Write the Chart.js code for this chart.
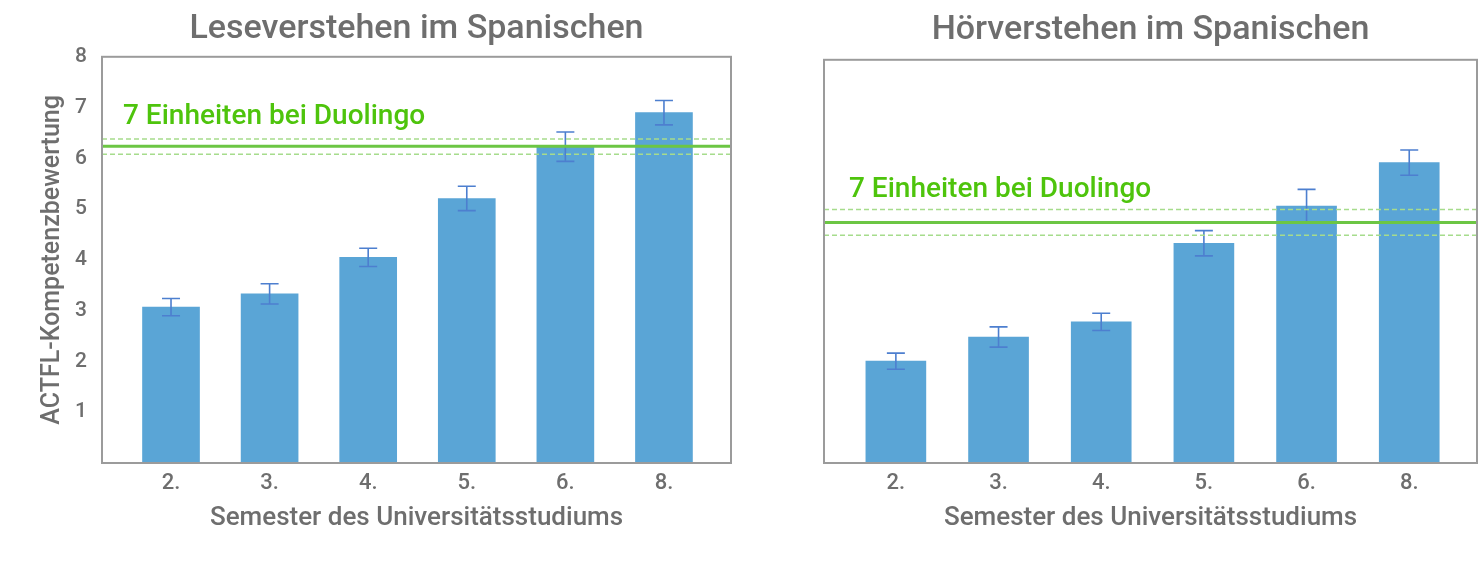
<!DOCTYPE html>
<html>
<head>
<meta charset="utf-8">
<script src="https://cdn.jsdelivr.net/npm/chart.js@4/dist/chart.umd.min.js"></script>
<style>
    html, body { margin: 0; padding: 0; background: #fff; }
    .box { position: absolute; top: 0; height: 562px; }
    #leftBox { left: 0; width: 760px; }
    #rightBox { left: 760px; width: 721px; }
</style>
</head>
<body>
<div class="box" id="leftBox"><canvas id="leseChart"></canvas></div>
<div class="box" id="rightBox"><canvas id="hoerChart"></canvas></div>
<script>
const semesters = ["2.", "3.", "4.", "5.", "6.", "8."];
const yTicks = [1, 2, 3, 4, 5, 6, 7, 8];

const leseWerte = [3.07, 3.33, 4.05, 5.21, 6.23, 6.90];
const leseFehler = [0.17, 0.20, 0.18, 0.24, 0.29, 0.24];
// Duolingo: Mittelwert, untere Grenze, obere Grenze
const leseDuolingo = [6.24, 6.08, 6.38];

const hoerWerte = [2.02, 2.50, 2.80, 4.36, 5.10, 5.96];
const hoerFehler = [0.16, 0.20, 0.17, 0.25, 0.33, 0.25];
const hoerDuolingo = [4.77, 4.52, 5.03];

const duolingoText = "7 Einheiten bei Duolingo";

const GRAY = "#6e6e6e";
const FONT = "Roboto";

// Fehlerbalken + Rahmen + Beschriftung der Duolingo-Linie
const extras = {
    id: "extras",
    afterDatasetDraw(chart, args, opts) {
        if (args.index !== 0) return;
        const ctx = chart.ctx;
        const x = chart.scales.x, y = chart.scales.y;
        ctx.save();
        ctx.strokeStyle = "#4d7fcf";
        ctx.lineWidth = 1.6;
        opts.values.forEach((v, i) => {
            const px = x.getPixelForValue(i);
            const top = y.getPixelForValue(v + opts.errors[i]);
            const bot = y.getPixelForValue(v - opts.errors[i]);
            ctx.beginPath();
            ctx.moveTo(px, top); ctx.lineTo(px, bot);
            ctx.moveTo(px - 9, top); ctx.lineTo(px + 9, top);
            ctx.moveTo(px - 9, bot); ctx.lineTo(px + 9, bot);
            ctx.stroke();
        });
        ctx.restore();
    },
    afterDatasetsDraw(chart, args, opts) {
        const ctx = chart.ctx;
        const a = chart.chartArea;
        ctx.save();
        ctx.strokeStyle = "#9b9b9b";
        ctx.lineWidth = 2;
        ctx.strokeRect(a.left, a.top, a.right - a.left, a.bottom - a.top);
        ctx.fillStyle = "#4ec40c";
        ctx.font = "500 28px " + FONT;
        ctx.textBaseline = "middle";
        ctx.fillText(duolingoText, a.left + opts.labelDx,
            chart.scales.y.getPixelForValue(opts.line[0]) - opts.labelDy);
        ctx.restore();
    }
};

function makeChart(id, cfg) {
    const line = (v, color, width, dash) => ({
        type: "line",
        data: [{ x: cfg.xMin, y: v }, { x: cfg.xMax, y: v }],
        borderColor: color,
        borderWidth: width,
        borderDash: dash,
        pointRadius: 0,
        order: 0,
    });

    return new Chart(document.getElementById(id), {
        type: "bar",
        data: {
            datasets: [
                {
                    data: cfg.values.map((v, i) => ({ x: i, y: v })),
                    backgroundColor: "#5aa5d6",
                    barThickness: cfg.barWidth,
                    order: 1,
                },
                line(cfg.line[0], "#6cc644", 3, []),
                line(cfg.line[1], "#a6dc8c", 1.5, [5, 3]),
                line(cfg.line[2], "#a6dc8c", 1.5, [5, 3]),
            ],
        },
        options: {
            responsive: true,
            maintainAspectRatio: false,
            animation: false,
            layout: { padding: { left: 0, right: cfg.padRight, top: 0, bottom: 0 } },
            plugins: {
                legend: { display: false },
                tooltip: { enabled: false },
                title: {
                    display: true,
                    fullSize: false,
                    text: cfg.title,
                    color: GRAY,
                    font: { family: FONT, size: 34, weight: "500" },
                    padding: cfg.titlePad,
                },
                extras: {
                    values: cfg.values,
                    errors: cfg.errors,
                    line: cfg.line,
                    labelDx: cfg.labelDx,
                    labelDy: cfg.labelDy,
                },
            },
            scales: {
                x: {
                    type: "linear",
                    offset: false,
                    min: cfg.xMin,
                    max: cfg.xMax,
                    grid: { display: false, drawTicks: false },
                    border: { display: false },
                    afterBuildTicks: (s) => { s.ticks = semesters.map((_, i) => ({ value: i })); },
                    afterFit: (s) => { s.height = 99; },
                    ticks: {
                        color: GRAY,
                        padding: 7,
                        font: { family: FONT, size: 22, weight: "500" },
                        callback: (v) => semesters[v],
                    },
                    title: {
                        display: true,
                        text: "Semester des Universitätsstudiums",
                        color: GRAY,
                        font: { family: FONT, size: 26, weight: "500" },
                        padding: { top: 0, bottom: 28 },
                    },
                },
                y: {
                    min: 0,
                    max: 8,
                    grid: { display: false, drawTicks: false },
                    border: { display: false },
                    afterBuildTicks: (s) => { s.ticks = yTicks.map((v) => ({ value: v })); },
                    afterFit: (s) => { s.width = cfg.yWidth; },
                    ticks: {
                        display: cfg.showY,
                        color: GRAY,
                        padding: 15,
                        font: { family: FONT, size: 21, weight: "500" },
                    },
                    title: {
                        display: cfg.showY,
                        text: "ACTFL-Kompetenzbewertung",
                        color: GRAY,
                        font: { family: FONT, size: 25, weight: "500" },
                        padding: { top: 38, bottom: 0 },
                    },
                },
            },
        },
        plugins: [extras],
    });
}

makeChart("leseChart", {
    title: "Leseverstehen im Spanischen",
    values: leseWerte,
    errors: leseFehler,
    line: leseDuolingo,
    xMin: -0.70,
    xMax: 5.68,
    barWidth: 57,
    padRight: 29,
    yWidth: 102,
    showY: true,
    titlePad: { top: 9, bottom: 7 },
    labelDx: 21,
    labelDy: 29,
});

makeChart("hoerChart", {
    title: "Hörverstehen im Spanischen",
    values: hoerWerte,
    errors: hoerFehler,
    line: hoerDuolingo,
    xMin: -0.70,
    xMax: 5.66,
    barWidth: 60,
    padRight: 4,
    yWidth: 64,
    showY: false,
    titlePad: { top: 10, bottom: 9 },
    labelDx: 25,
    labelDy: 33,
});
</script>
</body>
</html>
